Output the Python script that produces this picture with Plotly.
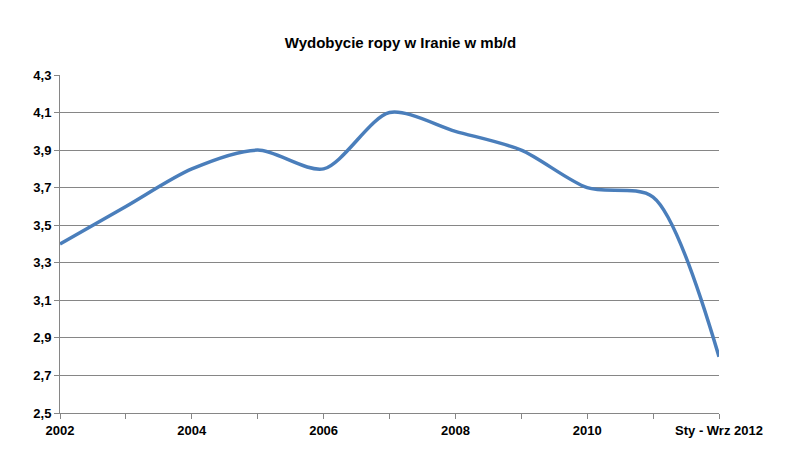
import plotly.graph_objects as go

years = ["2002", "2003", "2004", "2005", "2006", "2007", "2008", "2009", "2010", "2011", "Sty - Wrz 2012"]
production = [3.4, 3.6, 3.8, 3.9, 3.8, 4.1, 4.0, 3.9, 3.7, 3.65, 2.8]

tick_text = [y if i % 2 == 0 else "" for i, y in enumerate(years)]
y_ticks = [2.5, 2.7, 2.9, 3.1, 3.3, 3.5, 3.7, 3.9, 4.1, 4.3]

fig = go.Figure(go.Scatter(
    x=list(range(len(years))), y=production, mode="lines",
    line=dict(color="#4A7EBB", width=3.5, shape="spline", smoothing=0.8),
    showlegend=False))

fig.update_layout(
    width=785, height=452, plot_bgcolor="white", paper_bgcolor="white",
    margin=dict(l=52, r=74, t=67, b=47, autoexpand=False),
    font=dict(family="Liberation Sans", size=13, color="black"),
    title=dict(text="<b>Wydobycie ropy w Iranie w mb/d</b>", x=0.5, xanchor="center",
               y=0.935, font=dict(size=15)),
    xaxis=dict(range=[0, 10], tickvals=list(range(len(years))),
               ticktext=[f"<b>{t}</b>" if t else "" for t in tick_text],
               showgrid=False, showline=True, linecolor="#868686", ticks="outside",
               ticklen=5, tickcolor="#868686", tickfont=dict(size=13), automargin=False),
    yaxis=dict(range=[2.5, 4.3], tickvals=y_ticks,
               ticktext=["<b>" + f"{v:.1f}".replace(".", ",") + "</b>" for v in y_ticks],
               showgrid=True, gridcolor="#868686", gridwidth=1, showline=True,
               linecolor="#868686", ticks="outside", ticklen=5, tickcolor="#868686",
               zeroline=False, automargin=False),
)

fig.write_html("out.html")
